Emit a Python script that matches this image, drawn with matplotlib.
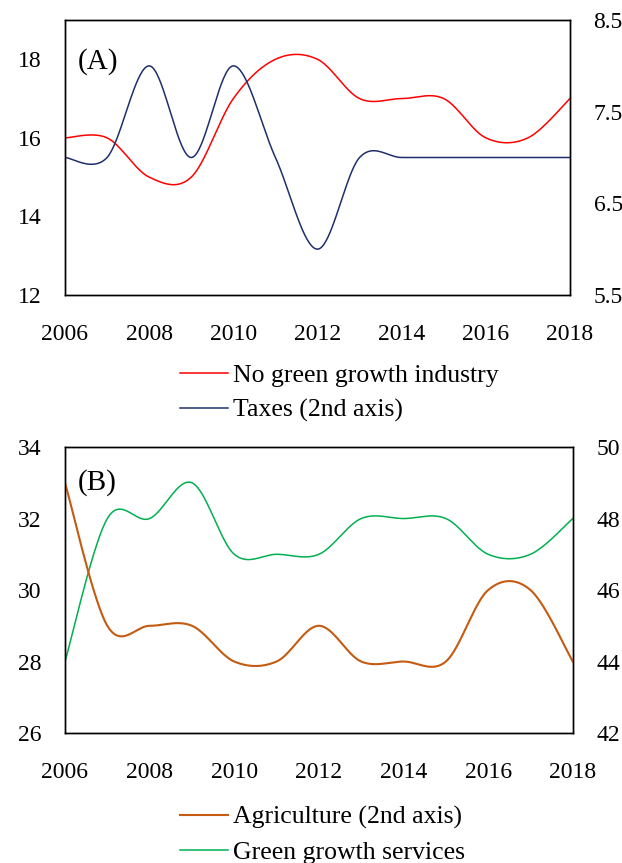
import numpy as np
import matplotlib
matplotlib.use("Agg")
import matplotlib.pyplot as plt

plt.rcParams['font.family'] = ['Liberation Serif', 'DejaVu Serif']

years = [2006, 2007, 2008, 2009, 2010, 2011, 2012, 2013, 2014, 2015, 2016, 2017, 2018]

# panel A
no_green_industry = [16, 16, 15, 15, 17, 18, 18, 17, 17, 17, 16, 16, 17]
taxes = [7, 7, 8, 7, 8, 7, 6, 7, 7, 7, 7, 7, 7]

# panel B
agriculture = [49, 45, 45, 45, 44, 44, 45, 44, 44, 44, 46, 46, 44]
green_services = [28, 32, 32, 33, 31, 31, 31, 32, 32, 32, 31, 31, 32]


def smooth(x, y, n=40):
    # excel-style smoothed line (bezier through the points)
    x = np.asarray(x, float)
    y = np.asarray(y, float)
    px = np.concatenate([[x[0]], x, [x[-1]]])
    py = np.concatenate([[y[0]], y, [y[-1]]])
    xs, ys = [], []
    t = np.linspace(0, 1, n)
    for i in range(1, len(px) - 2):
        p0 = np.array([px[i], py[i]])
        p3 = np.array([px[i + 1], py[i + 1]])
        c1 = p0 + (np.array([px[i + 1], py[i + 1]]) - np.array([px[i - 1], py[i - 1]])) / 6
        c2 = p3 - (np.array([px[i + 2], py[i + 2]]) - np.array([px[i], py[i]])) / 6
        b = ((1 - t) ** 3)[:, None] * p0 + (3 * (1 - t) ** 2 * t)[:, None] * c1 \
            + (3 * (1 - t) * t ** 2)[:, None] * c2 + (t ** 3)[:, None] * p3
        xs.extend(b[:, 0])
        ys.extend(b[:, 1])
    return xs, ys


def style(ax, ax2):
    for a in (ax, ax2):
        a.tick_params(length=0, labelsize=17)
        for s in a.spines.values():
            s.set_linewidth(1.0)
            s.set_color('black')
    ax.tick_params(axis='y', pad=17)
    ax2.tick_params(axis='y', pad=17)
    ax.tick_params(axis='x', pad=21)
    ax.set_xlim(2006, 2018)
    ax.set_xticks(range(2006, 2019, 2))


fig = plt.figure(figsize=(6.22, 8.63), dpi=100)
leg_kw = dict(loc='upper left', frameon=False, fontsize=18.5, handlelength=1.85,
              handletextpad=0.2, labelspacing=0.45, borderpad=0)

# (A)
axA = fig.add_axes([0.1045, 0.6582, 0.8119, 0.3186])
axA2 = axA.twinx()
xs, ys = smooth(years, no_green_industry)
lA1, = axA.plot(xs, ys, color='#FF0000', lw=1.1)
xs, ys = smooth(years, taxes)
lA2, = axA2.plot(xs, ys, color='#1F2F6B', lw=1.1)
axA.set_ylim(12, 19)
axA.set_yticks([12, 14, 16, 18])
axA2.set_ylim(5.5, 8.5)
axA2.set_yticks([5.5, 6.5, 7.5, 8.5])
axA2.set_yticklabels(['5.5', '6.5', '7.5', '8.5'])
style(axA, axA2)
axA.text(0.025, 0.85, '(A)', transform=axA.transAxes, fontsize=21, va='center', ha='left')
fig.legend([lA1, lA2], ['No green growth industry', 'Taxes (2nd axis)'],
           bbox_to_anchor=(0.269, 0.593), **leg_kw)

# (B)
axB = fig.add_axes([0.1045, 0.1506, 0.8164, 0.3314])
axB2 = axB.twinx()
xs, ys = smooth(years, agriculture)
lB1, = axB2.plot(xs, ys, color='#C55A11', lw=1.5)
xs, ys = smooth(years, green_services)
lB2, = axB.plot(xs, ys, color='#00B050', lw=1.1)
axB.set_ylim(26, 34)
axB.set_yticks([26, 28, 30, 32, 34])
axB2.set_ylim(42, 50)
axB2.set_yticks([42, 44, 46, 48, 50])
style(axB, axB2)
axB.text(0.025, 0.877, '(B)', transform=axB.transAxes, fontsize=21, va='center', ha='left')
fig.legend([lB1, lB2], ['Agriculture (2nd axis)', 'Green growth services'],
           bbox_to_anchor=(0.269, 0.081), **leg_kw)

fig.savefig('out.png', dpi=100)
